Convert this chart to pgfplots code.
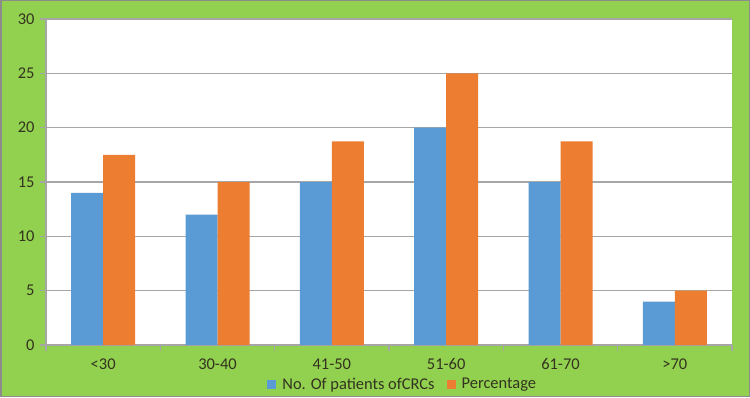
\documentclass[border=0pt]{standalone}
\usepackage{pgfplots}
\pgfplotsset{compat=1.18}
\usepackage{fontspec}
\setmainfont{Carlito}

\definecolor{bggreen}{HTML}{92D050}
\definecolor{framegray}{HTML}{8C8C8C}
\definecolor{gridgray}{HTML}{A6A6A6}
\definecolor{barblue}{HTML}{5B9BD5}
\definecolor{barorange}{HTML}{ED7D31}
\definecolor{labeltext}{HTML}{33331F}

\begin{document}
\begin{tikzpicture}[x=1bp,y=1bp]
  % chart area background and frame
  \fill[bggreen] (0,0) rectangle (750,397);
  \draw[framegray, line width=1.5bp] (0.75,0.75) rectangle (749.25,396.25);
  \useasboundingbox (0,0) rectangle (750,397);
  \begin{axis}[
    at={(46bp,52bp)}, anchor=south west,
    scale only axis, width=686bp, height=326bp,
    axis background/.style={fill=white},
    ymin=0, ymax=30, xmin=-0.5, xmax=5.5,
    ytick={0,5,...,30},
    xtick={0,...,5},
    xticklabels={{<30},{30-40},{41-50},{51-60},{61-70},{>70}},
    major x tick style={draw=none},
    extra x ticks={-0.5,0.5,...,5.5},
    extra x tick labels={},
    extra x tick style={major tick length=6bp, tick align=outside, major x tick style={draw=gridgray, line width=1.2bp}},
    tick align=outside, major tick length=6bp,
    tick style={gridgray, line width=1.2bp},
    ymajorgrids, grid style={gridgray, line width=1.2bp},
    axis x line*=bottom, axis y line*=left,
    axis line style={-, gridgray, line width=1.2bp},
    /pgf/number format/assume math mode=true,
    tick label style={font=\fontsize{16.5}{18}\selectfont, text=labeltext},
    yticklabel style={xshift=-2bp},
    xticklabel style={yshift=-4bp},
    ybar=0pt, bar width=32bp,
    legend style={at={(0.52,-0.12)}, anchor=center, draw=none, fill=none,
      legend columns=2, font=\fontsize{16.5}{18}\selectfont, text=labeltext,
      /tikz/every odd column/.append style={column sep=4bp},
      /tikz/every even column/.append style={column sep=10bp}},
    legend image code/.code={\fill[#1] (0bp,-4.5bp) rectangle (9bp,4.5bp);},
  ]
    \addplot[fill=barblue, draw=none] coordinates {(0,14) (1,12) (2,15) (3,20) (4,15) (5,4)};
    \addplot[fill=barorange, draw=none] coordinates {(0,17.5) (1,15) (2,18.75) (3,25) (4,18.75) (5,5)};
    \legend{No. Of patients ofCRCs, Percentage}
  \end{axis}
\end{tikzpicture}
\end{document}
